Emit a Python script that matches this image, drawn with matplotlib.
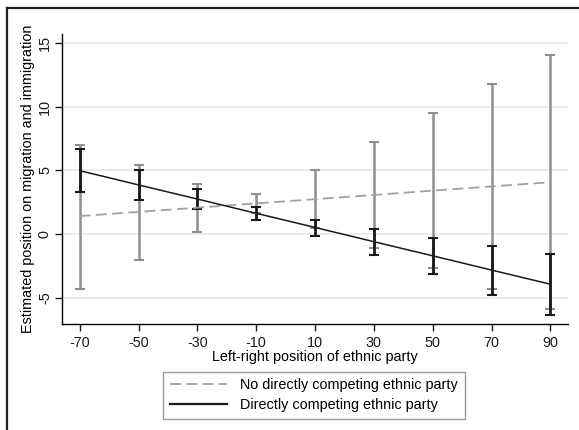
import matplotlib
matplotlib.use("Agg")
import matplotlib.pyplot as plt
from matplotlib.lines import Line2D
import numpy as np

plt.rcParams['font.family'] = ['Liberation Sans', 'DejaVu Sans']
plt.rcParams['axes.unicode_minus'] = False

x = [-70, -50, -30, -10, 10, 30, 50, 70, 90]
# No directly competing ethnic party
no_mean = [1.40, 1.73, 2.06, 2.40, 2.73, 3.06, 3.40, 3.73, 4.06]
no_lo = [-4.31, -2.06, 0.16, 1.66, 0.46, -1.10, -2.69, -4.29, -5.88]
no_hi = [6.96, 5.44, 3.92, 3.14, 5.00, 7.22, 9.49, 11.76, 14.07]
# Directly competing ethnic party
d_mean = [4.97, 3.85, 2.74, 1.62, 0.51, -0.61, -1.72, -2.84, -3.95]
d_lo = [3.29, 2.64, 1.99, 1.10, -0.13, -1.62, -3.18, -4.78, -6.38]
d_hi = [6.64, 5.05, 3.53, 2.15, 1.13, 0.37, -0.31, -0.94, -1.59]

xticks = [-70, -50, -30, -10, 10, 30, 50, 70, 90]
yticks = [-5, 0, 5, 10, 15]

fs = 10.4
fig = plt.figure(figsize=(5.79, 4.30), dpi=100)
ax = fig.add_axes([0.1066, 0.2458, 0.874, 0.675])

gray = '#8f8f8f'
black = '#1a1a1a'

for yt in yticks:
    ax.axhline(yt, color='#ececec', lw=1.5, zorder=0)

no_mean_a = np.array(no_mean)
d_mean_a = np.array(d_mean)
ax.errorbar(x, no_mean, yerr=[no_mean_a - np.array(no_lo), np.array(no_hi) - no_mean_a],
            fmt='none', ecolor=gray, elinewidth=1.8, capsize=3.5, capthick=1.5, zorder=2)
ax.errorbar(x, d_mean, yerr=[d_mean_a - np.array(d_lo), np.array(d_hi) - d_mean_a],
            fmt='none', ecolor=black, elinewidth=2.0, capsize=3.5, capthick=1.5, zorder=3)
ax.plot(x, no_mean, color='#a0a0a0', lw=1.3, dashes=(6, 3), zorder=4)
ax.plot(x, d_mean, color=black, lw=1.1, zorder=4)

ax.set_xlim(-76.1, 95.9)
ax.set_ylim(-7.1, 15.7)
ax.set_xticks(xticks)
ax.set_yticks(yticks)
ax.set_yticklabels([str(v) for v in yticks], rotation=90, va='center')
ax.spines['top'].set_visible(False)
ax.spines['right'].set_visible(False)
ax.spines['left'].set_linewidth(1.0)
ax.spines['bottom'].set_linewidth(1.0)
ax.tick_params(axis='both', labelsize=fs, length=5, width=1.0, colors='#1a1a1a')
ax.tick_params(axis='y', pad=2)
ax.set_xlabel('Left-right position of ethnic party', fontsize=fs, labelpad=0)
ax.set_ylabel('Estimated position on migration and immigration', fontsize=fs, labelpad=2)

handles = [Line2D([0], [0], color='#a0a0a0', lw=1.3, dashes=(6, 3)),
           Line2D([0], [0], color=black, lw=1.6)]
labels = ['No directly competing ethnic party', 'Directly competing ethnic party']
leg = fig.legend(handles, labels, loc='upper left', bbox_to_anchor=(163/579, 1-372/430),
                 fontsize=fs, frameon=True, fancybox=False, handlelength=4.0,
                 borderpad=0.45, labelspacing=0.4, handletextpad=0.9, borderaxespad=0)
leg.get_frame().set_edgecolor('#808080')
leg.get_frame().set_linewidth(1.0)

# outer frame (left and top edges)
fig.add_artist(Line2D([7/579, 7/579], [0, 1-8/430], color='#222222', lw=1.6, transform=fig.transFigure))
fig.add_artist(Line2D([7/579, 1], [1-8/430, 1-8/430], color='#222222', lw=1.6, transform=fig.transFigure))

fig.savefig('out.png', dpi=100)
